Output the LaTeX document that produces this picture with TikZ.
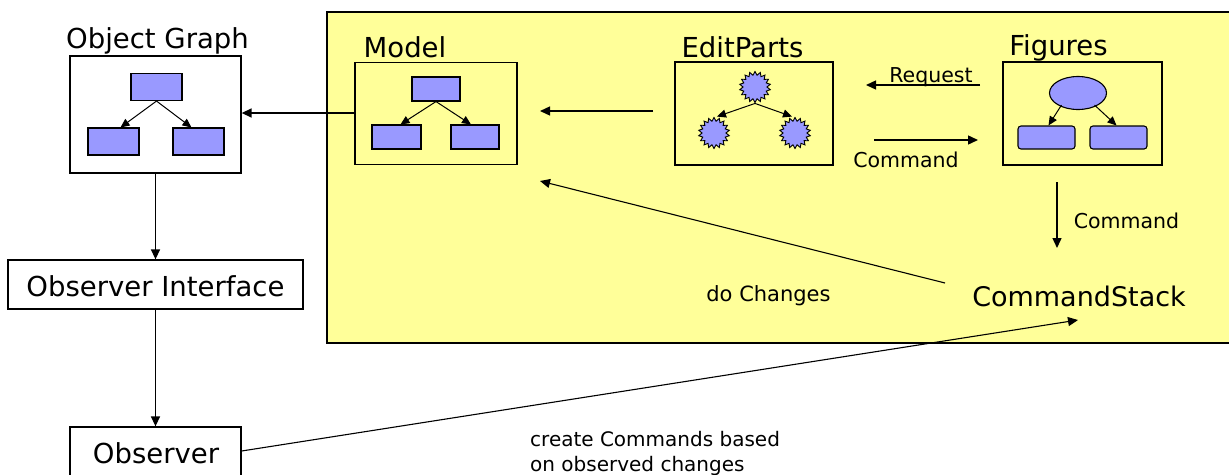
\documentclass[tikz,border=0pt]{standalone}
\usepackage{fontspec}
\setmainfont{DejaVu Sans}
\usetikzlibrary{arrows.meta,shapes.geometric}
\definecolor{panel}{HTML}{FFFF99}
\definecolor{blu}{HTML}{9999FF}
\tikzset{
  box/.style={draw=black, line width=1.3pt, inner sep=0pt},
  inbox/.style={draw=black, fill=blu, line width=1.1pt, inner sep=0pt, minimum width=51pt, minimum height=27pt},
  rbox/.style={draw=black, fill=blu, line width=1.1pt, inner sep=0pt, minimum width=57pt, minimum height=23pt, rounded corners=3pt},
  burst/.style={star, star points=18, star point ratio=1.3, draw=black, fill=blu, line width=0.9pt, inner sep=0pt, minimum size=31pt},
  oval/.style={ellipse, draw=black, fill=blu, line width=1.1pt, inner sep=0pt, minimum width=57pt, minimum height=33pt},
  title/.style={font=\fontsize{27.5}{30}\selectfont, anchor=base, inner sep=0pt},
  small/.style={font=\fontsize{20.5}{24}\selectfont, anchor=base, inner sep=0pt},
  arr/.style={line width=1.4pt, -{Triangle[length=10pt,width=9pt]}},
  iarr/.style={line width=1pt, -{Triangle[length=9pt,width=8pt]}},
  plain/.style={line width=1.3pt}
}
\begin{document}
\begin{tikzpicture}[x=1pt,y=-1pt]
\useasboundingbox (0,0) rectangle (1229,474);
\fill[white] (0,0) rectangle (1229,474);
\clip (0,0) rectangle (1229,474);
% yellow panel
\draw[fill=panel, line width=1.5pt] (327,12) rectangle (1240,343);

% Object Graph
\node[title] (oglbl) at (157.5,48) {Object Graph};
\node[box, minimum width=171pt, minimum height=117pt] (og) at (155.5,114.5) {};
\node[inbox] (ogt) at (156.5,87) {};
\node[inbox] (ogl) at (113.5,141.5) {};
\node[inbox] (ogr) at (198.5,141.5) {};
\draw[iarr] (ogt.south) -- ([xshift=7pt]ogl.north);
\draw[iarr] (ogt.south) -- ([xshift=-7pt]ogr.north);

% Observer Interface and Observer
\node[box, minimum width=295pt, minimum height=49pt] (oi) at (155.5,284.5) {};
\node[title] (oilbl) at (155.5,296) {Observer Interface};
\node[box, minimum width=171pt, minimum height=60pt] (obs) at (155.5,457) {};
\node[title] (obslbl) at (156,463) {Observer};
\draw[arr] (og.south) -- (oi.north);
\draw[arr] (oi.south) -- (obs.north);

% Model
\node[title] (mlbl) at (405,57) {Model};
\node[box, minimum width=162pt, minimum height=102pt] (model) at (436,113.5) {};
\node[inbox, minimum width=48pt, minimum height=24pt] (mt) at (436,89) {};
\node[inbox, minimum width=49pt, minimum height=24pt] (ml) at (396.5,137) {};
\node[inbox, minimum width=48pt, minimum height=24pt] (mr) at (475,137) {};
\draw[iarr] (mt.south) -- ([xshift=4pt]ml.north);
\draw[iarr] (mt.south) -- ([xshift=-4pt]mr.north);
\draw[arr] (model.west |- 0,113) -- (og.east |- 0,113);

% EditParts
\node[title] (elbl) at (742.5,57) {EditParts};
\node[box, minimum width=158pt, minimum height=103pt] (ep) at (754,113.5) {};
\node[burst] (et) at (755,87) {};
\node[burst] (el) at (714,133) {};
\node[burst] (er) at (795,133) {};
\draw[iarr] (et.south) -- ([xshift=3pt]el.north);
\draw[iarr] (et.south) -- ([xshift=-3pt]er.north);
\coordinate (epfrom) at (653,111);
\coordinate (mto) at (540,111);
\draw[arr] (epfrom) -- (mto);

% Figures
\node[title] (flbl) at (1058.5,55) {Figures};
\node[box, minimum width=159pt, minimum height=103pt] (fig) at (1082.5,113.5) {};
\node[oval] (ft) at (1078,93) {};
\node[rbox] (fl) at (1046.5,137.5) {};
\node[rbox] (fr) at (1118.5,137.5) {};
\draw[iarr] (ft.south west) ++(4pt,0) -- ([xshift=2pt]fl.north);
\draw[iarr] (ft.south east) ++(-4pt,0) -- ([xshift=-2pt]fr.north);

% Request / Command between EditParts and Figures
\coordinate (rqs) at (980,85);
\coordinate (rqe) at (866,85);
\draw[arr] (rqs) -- (rqe);
\node[small] (rq) at (931,82) {Request};
\coordinate (cms) at (874,140);
\coordinate (cme) at (978,140);
\draw[arr] (cms) -- (cme);
\node[small] (cm) at (906,167) {Command};

% CommandStack
\node[font=\fontsize{27}{30}\selectfont, inner sep=0pt, anchor=base] (cs) at (1079,306) {CommandStack};
\coordinate (cds) at (1057,182);
\coordinate (cde) at (1057,248);
\draw[arr] (cds) -- (cde);
\node[small] (cm2) at (1126.5,228) {Command};

% do Changes
\coordinate (dcs) at (945,283);
\coordinate (dce) at (540,181);
\draw[line width=1.1pt, -{Triangle[length=10pt,width=9pt]}] (dcs) -- (dce);
\node[small, font=\fontsize{21}{24}\selectfont] (dc) at (768.5,301) {do Changes};

% Observer -> CommandStack
\coordinate (cstgt) at (1078,320);
\draw[line width=1.1pt, -{Triangle[length=10pt,width=9pt]}] (obs.east |- 0,451) -- (cstgt);
\node[small, font=\fontsize{20}{24}\selectfont, anchor=base west] (cr1) at (530,446) {create Commands based};
\node[small, font=\fontsize{20}{24}\selectfont, anchor=base west] (cr2) at (530,471) {on observed changes};
\end{tikzpicture}
\end{document}
